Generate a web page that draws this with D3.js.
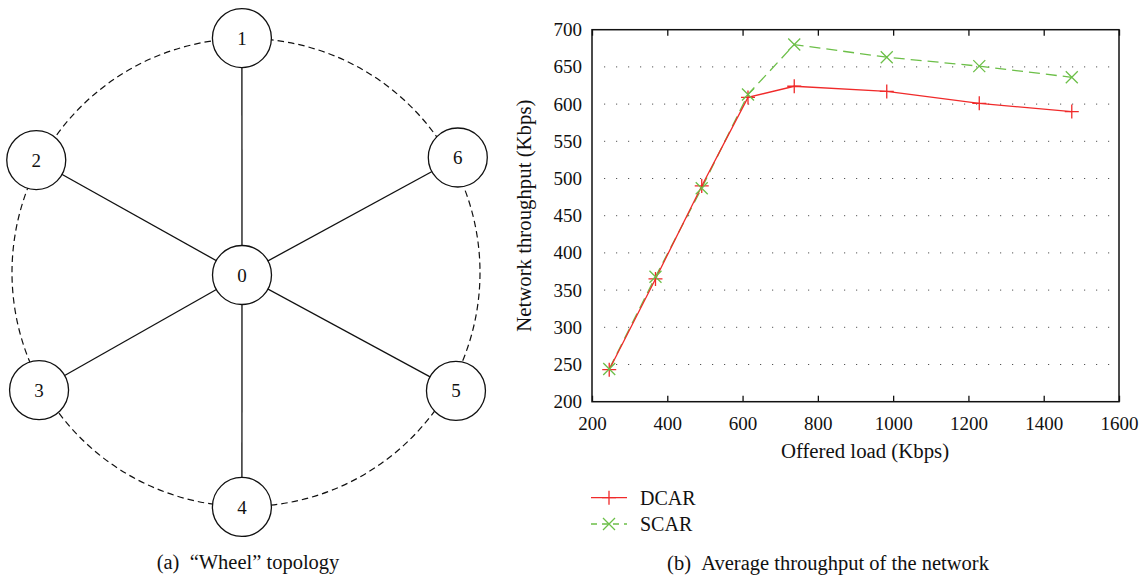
<!DOCTYPE html>
<html><head><meta charset="utf-8">
<script src="https://cdn.jsdelivr.net/npm/d3@7"></script>
<style>body{margin:0;background:#fff}svg{display:block}text{font-family:"Liberation Serif","DejaVu Serif",serif;fill:#111}</style>
</head><body>
<svg id="c" width="1146" height="579"></svg>
<script>
// ---- data ----
const offeredLoad = [245.76, 368.64, 491.52, 614.4, 737.28, 983.04, 1228.8, 1474.56];
const dcar = [243, 365, 490, 609, 624, 617, 601, 590];
const scar = [244, 368, 487, 613, 680, 663, 651, 636];
const xTicks = [200, 400, 600, 800, 1000, 1200, 1400, 1600];
const yTicks = [200, 250, 300, 350, 400, 450, 500, 550, 600, 650, 700];
const seriesNames = ["DCAR", "SCAR"];
const nodeIds = ["1", "2", "3", "4", "5", "6"];
const nodeAngles = [91, 151.8, 209.6, 269, 330.6, 28.5]; // degrees around the ring
const nodeRing = [234.5, 238, 238, 234.5, 241, 241];      // distance from ring centre
const hubId = "0";
const captions = ["(a)\u2002\u201cWheel\u201d topology", "(b)\u2002Average throughput of the network"];

const svg = d3.select("#c");

// ---- topology ----
const topo = svg.append("g");
const cx = 246, cy = 272.5, R = 234, nr = 29.5;
const rad = d => d * Math.PI / 180;
const nodes = nodeIds.map((id, i) => ({id, x: cx + nodeRing[i] * Math.cos(rad(nodeAngles[i])), y: cy - nodeRing[i] * Math.sin(rad(nodeAngles[i]))}));
const hub = {id: hubId, x: 242, y: 275};
topo.append("circle").attr("cx", cx).attr("cy", cy).attr("r", R)
  .attr("fill", "none").attr("stroke", "#111").attr("stroke-width", 1.2).attr("stroke-dasharray", "6.5,4");
topo.selectAll("line.spoke").data(nodes).join("line")
  .attr("x1", hub.x).attr("y1", hub.y).attr("x2", d => d.x).attr("y2", d => d.y)
  .attr("stroke", "#111").attr("stroke-width", 1.3);
const allNodes = [hub, ...nodes];
topo.selectAll("circle.node").data(allNodes).join("circle")
  .attr("cx", d => d.x).attr("cy", d => d.y).attr("r", nr)
  .attr("fill", "#fff").attr("stroke", "#111").attr("stroke-width", 1.3);
topo.selectAll("text.nl").data(allNodes).join("text")
  .attr("x", d => d.x).attr("y", d => d.y).attr("dy", "0.35em")
  .attr("text-anchor", "middle").attr("font-size", 19).text(d => d.id);
svg.append("text").attr("x", 248).attr("y", 569).attr("text-anchor", "middle")
  .attr("font-size", 20.5).text(captions[0]);

// ---- chart ----
const L = 592, Rr = 1119, T = 29.7, B = 401.7;
const x = d3.scaleLinear().domain([200, 1600]).range([L, Rr]);
const y = d3.scaleLinear().domain([200, 700]).range([B, T]);
const g = svg.append("g");

// grid
g.selectAll("line.grid").data(yTicks.filter(v => v > 200 && v < 700)).join("line")
  .attr("x1", L + 12).attr("x2", Rr - 4).attr("y1", d => y(d)).attr("y2", d => y(d))
  .attr("stroke", "#555").attr("stroke-width", 1).attr("stroke-dasharray", "1.2,10.8");

// axes
const fmt = d3.format("d");
const xAxisB = d3.axisBottom(x).tickValues(xTicks).tickFormat(fmt).tickSizeInner(-6).tickSizeOuter(0).tickPadding(10);
const xAxisT = d3.axisTop(x).tickValues(xTicks).tickSizeInner(-6).tickSizeOuter(0).tickFormat("");
const yAxisL = d3.axisLeft(y).tickValues(yTicks).tickFormat(fmt).tickSize(0).tickPadding(10);
const gb = g.append("g").attr("transform", `translate(0,${B})`).call(xAxisB);
const gt = g.append("g").attr("transform", `translate(0,${T})`).call(xAxisT);
const gl = g.append("g").attr("transform", `translate(${L},0)`).call(yAxisL);
[gb, gt, gl].forEach(a => {
  a.select(".domain").remove();
  a.selectAll("line").attr("stroke", "#111").attr("stroke-width", 1.3);
  a.selectAll("text").attr("font-family", "Liberation Serif").attr("font-size", 19).attr("fill", "#111");
});
gb.selectAll("text").attr("dy", "0.95em");
g.append("rect").attr("x", L).attr("y", T).attr("width", Rr - L).attr("height", B - T)
  .attr("fill", "none").attr("stroke", "#111").attr("stroke-width", 1.5);

// axis labels
g.append("text").attr("x", 865).attr("y", 458).attr("text-anchor", "middle").attr("font-size", 20.8).text("Offered load (Kbps)");
g.append("text").attr("transform", `translate(531,${(T + B) / 2}) rotate(-90)`).attr("text-anchor", "middle")
  .attr("font-size", 20.8).text("Network throughput (Kbps)");

// series
const red = "#f02a2a", green = "#6cbf48";
const line = d3.line().x(d => x(d[0])).y(d => y(d[1]));
const dcarPts = offeredLoad.map((v, i) => [v, dcar[i]]);
const scarPts = offeredLoad.map((v, i) => [v, scar[i]]);
g.append("path").datum(scarPts).attr("d", line).attr("fill", "none").attr("stroke", green).attr("stroke-width", 1.3).attr("stroke-dasharray", "11,6");
g.append("path").datum(dcarPts).attr("d", line).attr("fill", "none").attr("stroke", red).attr("stroke-width", 1.3);
const plus = (sel, s) => sel.attr("d", `M${-s},0H${s}M0,${-s}V${s}`);
const cross = (sel, s) => sel.attr("d", `M${-s},${-s}L${s},${s}M${-s},${s}L${s},${-s}`);
g.selectAll("path.pm").data(dcarPts).join("path").attr("transform", d => `translate(${x(d[0])},${y(d[1])})`)
  .call(plus, 7).attr("fill", "none").attr("stroke", red).attr("stroke-width", 1.3);
g.selectAll("path.xm").data(scarPts).join("path").attr("transform", d => `translate(${x(d[0])},${y(d[1])})`)
  .call(cross, 6).attr("fill", "none").attr("stroke", green).attr("stroke-width", 1.3);

// legend
const leg = svg.append("g");
const legY = [497.7, 524];
const legCol = [red, green];
seriesNames.forEach((n, i) => {
  leg.append("line").attr("x1", 591).attr("x2", 627).attr("y1", legY[i]).attr("y2", legY[i])
    .attr("stroke", legCol[i]).attr("stroke-width", 1.3).attr("stroke-dasharray", i ? "6,5" : null);
  leg.append("path").attr("transform", `translate(609,${legY[i]})`).call(i ? cross : plus, i ? 6 : 7)
    .attr("fill", "none").attr("stroke", legCol[i]).attr("stroke-width", 1.3);
  leg.append("text").attr("x", 640).attr("y", legY[i]).attr("dy", "0.35em").attr("font-size", 20).text(n);
});
svg.append("text").attr("x", 828).attr("y", 570).attr("text-anchor", "middle").attr("font-size", 20.5).text(captions[1]);
</script>
</body></html>
